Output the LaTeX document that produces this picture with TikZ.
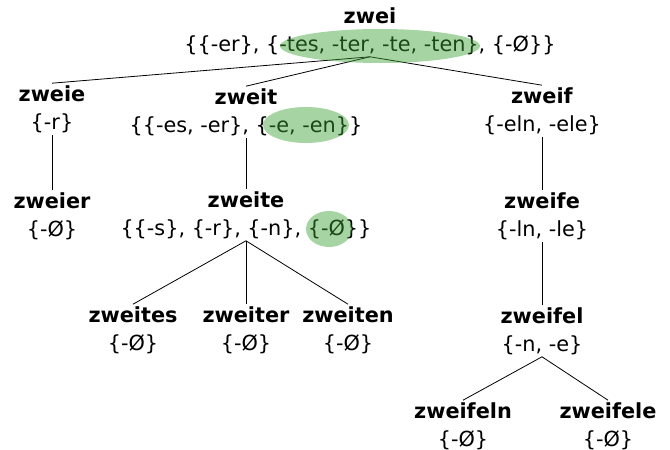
\documentclass[tikz,border=0pt]{standalone}
\usepackage{fontspec}
\setmainfont{DejaVu Sans}
\begin{document}
\begin{tikzpicture}[x=1pt,y=-1pt,
  wn/.style={align=center,inner sep=2pt,font=\fontsize{20.8}{28}\selectfont},
  hl/.style={fill={rgb,255:red,60;green,160;blue,50},fill opacity=0.45,draw=none},
  conn/.style={draw=black,line width=0.8pt}]
\useasboundingbox (0,0) rectangle (670,450);
\node[wn] (zwei) at (370,31) {\textbf{zwei}\\\{\{-er\}, \{-tes, -ter, -te, -ten\}, \{-Ø\}\}};
\node[wn] (zweie) at (52,109) {\textbf{zweie}\\\{-r\}};
\node[wn] (zweier) at (52,216) {\textbf{zweier}\\\{-Ø\}};
\node[wn] (zweit) at (246,112) {\textbf{zweit}\\\{\{-es, -er\}, \{-e, -en\}\}};
\node[wn] (zweite) at (246,215) {\textbf{zweite}\\\{\{-s\}, \{-r\}, \{-n\}, \{-Ø\}\}};
\node[wn] (zweites) at (133,330) {\textbf{zweites}\\\{-Ø\}};
\node[wn] (zweiter) at (246,330) {\textbf{zweiter}\\\{-Ø\}};
\node[wn] (zweiten) at (348,330) {\textbf{zweiten}\\\{-Ø\}};
\node[wn] (zweif) at (542,111) {\textbf{zweif}\\\{-eln, -ele\}};
\node[wn] (zweife) at (542,216) {\textbf{zweife}\\\{-ln, -le\}};
\node[wn] (zweifel) at (542,331) {\textbf{zweifel}\\\{-n, -e\}};
\node[wn] (zweifeln) at (463,426) {\textbf{zweifeln}\\\{-Ø\}};
\node[wn] (zweifele) at (608,426) {\textbf{zweifele}\\\{-Ø\}};
\draw[conn] (zwei.south) -- (zweie.north);
\draw[conn] (zwei.south) -- (zweit.north);
\draw[conn] (zwei.south) -- (zweif.north);
\draw[conn] (zweie.south) -- (zweier.north);
\draw[conn] (zweit.south) -- (zweite.north);
\draw[conn] (zweite.south) -- (zweites.north);
\draw[conn] (zweite.south) -- (zweiter.north);
\draw[conn] (zweite.south) -- (zweiten.north);
\draw[conn] (zweif.south) -- (zweife.north);
\draw[conn] (zweife.south) -- (zweifel.north);
\draw[conn] (zweifel.south) -- (zweifeln.north);
\draw[conn] (zweifel.south) -- (zweifele.north);
\path[hl] (380,46) ellipse [x radius=100,y radius=17];
\path[hl] (306,125) ellipse [x radius=43,y radius=18];
\path[hl] (329,229) ellipse [x radius=23,y radius=18];
\end{tikzpicture}
\end{document}
